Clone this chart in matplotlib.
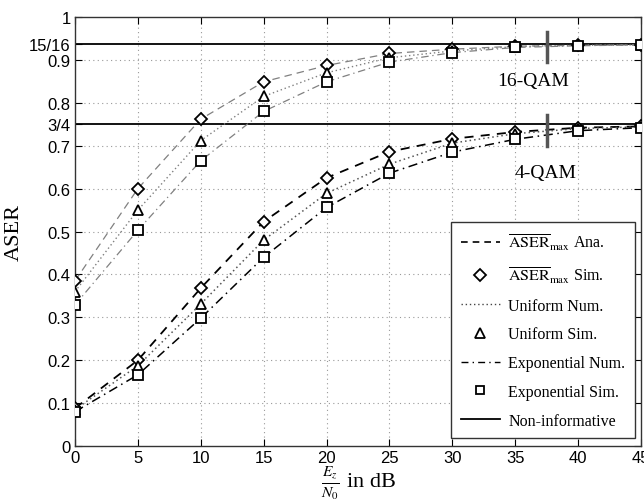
import matplotlib
matplotlib.use("Agg")
import matplotlib.pyplot as plt
from matplotlib.lines import Line2D

plt.rcParams['mathtext.fontset'] = 'stix'

snr_db = [0, 5, 10, 15, 20, 25, 30, 35, 40, 45]

# 16-QAM
qam16_max = [0.385, 0.600, 0.762, 0.849, 0.887, 0.915, 0.925, 0.932, 0.934, 0.935]
qam16_uni = [0.360, 0.550, 0.712, 0.815, 0.870, 0.905, 0.921, 0.931, 0.934, 0.935]
qam16_exp = [0.329, 0.503, 0.665, 0.780, 0.849, 0.895, 0.917, 0.929, 0.933, 0.935]

# 4-QAM
qam4_max = [0.088, 0.200, 0.368, 0.523, 0.625, 0.686, 0.716, 0.732, 0.742, 0.745]
qam4_uni = [0.085, 0.187, 0.331, 0.480, 0.589, 0.657, 0.706, 0.728, 0.740, 0.744]
qam4_exp = [0.080, 0.166, 0.298, 0.440, 0.556, 0.636, 0.685, 0.715, 0.735, 0.742]

non_informative = [15/16, 3/4]

ytick_vals = [0, 0.1, 0.2, 0.3, 0.4, 0.5, 0.6, 0.7, 0.75, 0.8, 0.9, 0.9375, 1]
ytick_labels = ['0', '0.1', '0.2', '0.3', '0.4', '0.5', '0.6', '0.7', '3/4', '0.8', '0.9', '15/16', '1']
xtick_vals = [0, 5, 10, 15, 20, 25, 30, 35, 40, 45]

fig = plt.figure(figsize=(6.44, 5.02), dpi=100)
ax = fig.add_axes([0.1165, 0.1096, 0.8788, 0.8545])

serif = 'Liberation Serif'
sans = 'Liberation Sans'

# grid
for v in [0.1, 0.2, 0.3, 0.4, 0.5, 0.6, 0.7, 0.8, 0.9]:
    ax.axhline(v, color='#999999', lw=0.8, ls=(0, (1, 3)), zorder=0)
for v in xtick_vals[1:-1]:
    ax.axvline(v, color='#999999', lw=0.8, ls=(0, (1, 3)), zorder=0)

# non-informative
for v in non_informative:
    ax.axhline(v, color='black', lw=1.3, zorder=2)

g16 = '#808080'
ax.plot(snr_db, qam16_max, color=g16, lw=0.9, ls=(0, (6, 4)), zorder=3)
ax.plot(snr_db, qam16_uni, color=g16, lw=1.0, ls=(0, (1, 2)), zorder=3)
ax.plot(snr_db, qam16_exp, color=g16, lw=0.9, ls=(0, (6, 3, 1, 3)), zorder=3)

ax.plot(snr_db, qam4_max, color='black', lw=1.3, ls=(0, (5, 4)), zorder=3)
ax.plot(snr_db, qam4_uni, color='#555555', lw=1.1, ls=(0, (1, 2)), zorder=3)
ax.plot(snr_db, qam4_exp, color='black', lw=1.1, ls=(0, (6, 3, 1, 3)), zorder=3)

mk = dict(ls='none', mfc='white', mec='black', mew=1.3, zorder=4)
for ys in (qam16_max, qam4_max):
    ax.plot(snr_db, ys, marker='D', ms=6.5, **mk)
for ys in (qam16_uni, qam4_uni):
    ax.plot(snr_db, ys, marker='^', ms=7.5, **mk)
for ys in (qam16_exp, qam4_exp):
    ax.plot(snr_db, ys, marker='s', ms=6.5, **mk)

# vertical markers
ax.plot([37.5, 37.5], [0.895, 0.966], color='#555555', lw=2.5, zorder=5)
ax.plot([37.5, 37.5], [0.70, 0.772], color='#555555', lw=2.5, zorder=5)

ax.text(36.4, 0.851, '16-QAM', family=serif, fontsize=14, ha='center', va='center')
ax.text(37.4, 0.638, '4-QAM', family=serif, fontsize=14, ha='center', va='center')

ax.set_xlim(0, 45)
ax.set_ylim(0, 1)
ax.set_xticks(xtick_vals)
ax.set_xticklabels([str(v) for v in xtick_vals], family=sans, fontsize=12)
ax.set_yticks(ytick_vals)
ax.set_yticklabels(ytick_labels, family=sans, fontsize=12)
ax.tick_params(direction='in', top=True, right=True, length=5, width=0.8, pad=3)
for s in ax.spines.values():
    s.set_linewidth(1.0)
    s.set_color('#333333')

ax.set_xlabel(r'$\frac{E_z}{N_0}$ in dB', family=serif, fontsize=16, labelpad=-1)
ax.set_ylabel('ASER', family=serif, fontsize=16, labelpad=4)

handles = [
    Line2D([], [], color='black', lw=1.2, ls=(0, (4, 3))),
    Line2D([], [], marker='D', ls='none', mfc='white', mec='black', mew=1.3, ms=6),
    Line2D([], [], color='#444444', lw=1.0, ls=(0, (1, 2))),
    Line2D([], [], marker='^', ls='none', mfc='white', mec='black', mew=1.3, ms=7),
    Line2D([], [], color='black', lw=1.0, ls=(0, (5, 3, 1, 3))),
    Line2D([], [], marker='s', ls='none', mfc='white', mec='black', mew=1.3, ms=6),
    Line2D([], [], color='black', lw=1.3),
]
labels = [
    r'$\overline{\mathrm{ASER}}_{\max}$ Ana.',
    r'$\overline{\mathrm{ASER}}_{\max}$ Sim.',
    'Uniform Num.',
    'Uniform Sim.',
    'Exponential Num.',
    'Exponential Sim.',
    'Non-informative',
]
leg = ax.legend(handles, labels, loc='lower right', bbox_to_anchor=(0.9895, 0.018),
                prop={'family': serif, 'size': 11.5}, frameon=True, fancybox=False,
                edgecolor='#333333', framealpha=1, labelspacing=0.8, handlelength=2.5,
                handletextpad=0.5, borderpad=0.6, borderaxespad=0)
leg.get_frame().set_linewidth(1.0)

fig.savefig('out.png', dpi=100)
